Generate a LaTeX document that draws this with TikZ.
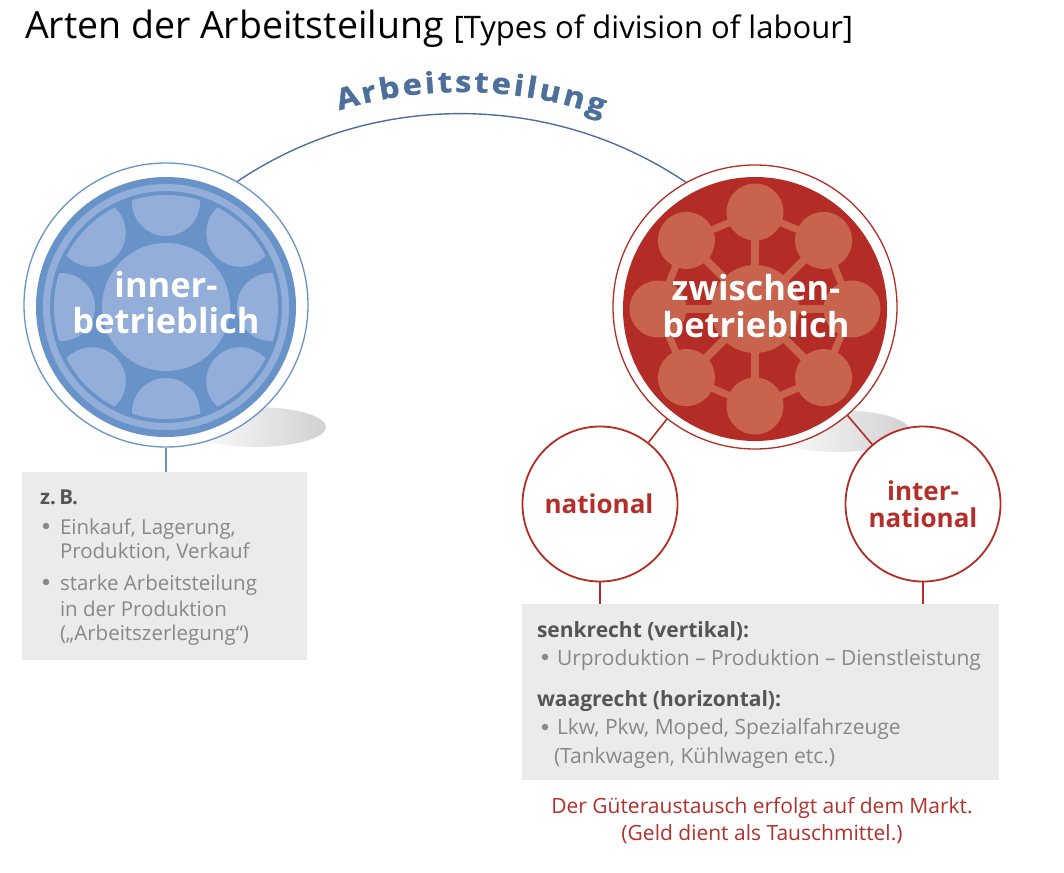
\documentclass[tikz,border=0pt]{standalone}
\usepackage{fontspec}
\setmainfont{Open Sans}
\newfontfamily\arcfont{Open Sans}[FakeStretch=1.12,FakeBold=1.5]
\usetikzlibrary{decorations.text,calc}
\definecolor{bdark}{HTML}{6893C9}
\definecolor{blight}{HTML}{93AFD9}
\definecolor{bline}{HTML}{4C6F9B}
\definecolor{rdark}{HTML}{B32D26}
\definecolor{rlight}{HTML}{C8644D}
\definecolor{boxgray}{HTML}{EBEBEB}
\definecolor{tdark}{HTML}{555555}
\definecolor{tlight}{HTML}{888888}
\definecolor{rtext}{HTML}{B3302A}
\newcommand\myfs[2]{\fontsize{#1pt}{#2pt}\selectfont}
\begin{document}
\begin{tikzpicture}[x=1pt,y=-1pt,
  ln/.style={anchor=base west,inner sep=0pt,outer sep=0pt},
  lnc/.style={anchor=base,inner sep=0pt,outer sep=0pt},
  txtL/.style={ln,text=tlight,font=\myfs{20.5}{24}},
  txtB/.style={ln,text=tdark,font=\bfseries\myfs{20.5}{24}},
  txtR/.style={ln,text=tlight,font=\myfs{21}{26}},
  txtRB/.style={ln,text=tdark,font=\bfseries\myfs{21}{26}},
  bul/.style={circle,fill=tlight,inner sep=0pt,minimum size=6.5pt},
  graybox/.style={fill=boxgray,inner sep=0pt,outer sep=0pt},
  bigcirc/.style={circle,line width=1.3pt,fill=white,minimum size=284pt,inner sep=0pt},
  smallcirc/.style={circle,draw=rdark,line width=1.8pt,fill=white,minimum size=155pt,inner sep=0pt},
  ctext/.style={lnc,text=white,font=\bfseries\myfs{34.5}{40}},
  rctext/.style={lnc,text=rtext,font=\bfseries\myfs{26}{30}},
  bconn/.style={draw=bline,line width=1.4pt},
  rconn/.style={draw=rdark,line width=1.6pt},
  lconn/.style={draw=bdark,line width=1.6pt}
]
\useasboundingbox (0,0) rectangle (1064,872);

% title
\node[ln] (title) at (25,39) {\myfs{37.5}{40}Arten der Arbeitsteilung\hspace{10pt}\myfs{31}{34}[Types of division of labour]};

% shadows
\shade[left color=white,right color=black!18] (256,427) ellipse[x radius=70pt,y radius=20pt];
\shade[left color=white,right color=black!18] (838,431) ellipse[x radius=72pt,y radius=21pt];

% blue circle
\node[bigcirc,draw=bdark] (inner) at (166,305) {};
\coordinate (ic) at (166,307);
\fill[bdark] (ic) circle[radius=130pt];
\fill[blight,even odd rule] (ic) circle[radius=123pt] (ic) circle[radius=116pt];
\begin{scope}
  \clip (ic) circle[radius=112pt];
  \foreach \a in {0,45,...,315} \fill[blight] ($(ic)+(\a:105pt)$) circle[radius=34pt];
\end{scope}
\fill[blight] (ic) circle[radius=64pt];
\node[ctext] (it1) at (166,297) {inner-};
\node[ctext] (it2) at (166,333) {betrieblich};

% red circle
\node[bigcirc,draw=rdark] (zw) at (755,307) {};
\coordinate (rc) at (755,309);
\fill[rdark] (rc) circle[radius=132pt];
\foreach \a in {0,45,...,315} \draw[rlight,line width=8pt] (rc) -- ($(rc)+(\a:97pt)$);
\draw[rlight,line width=7pt,line join=round] ($(rc)+(0:97pt)$) -- ($(rc)+(45:97pt)$) -- ($(rc)+(90:97pt)$) -- ($(rc)+(135:97pt)$) -- ($(rc)+(180:97pt)$) -- ($(rc)+(225:97pt)$) -- ($(rc)+(270:97pt)$) -- ($(rc)+(315:97pt)$) -- cycle;
\foreach \a in {0,45,...,315} \fill[rlight] ($(rc)+(\a:97pt)$) circle[radius=28.5pt];
\fill[rlight] (rc) circle[radius=44pt];
\node[ctext] (zt1) at (756,300) {zwischen-};
\node[ctext] (zt2) at (756,337) {betrieblich};

% arc connector and its label
\draw[bconn] (inner.60) to[out=34,in=146,looseness=0.93] (zw.119);
\coordinate (arcc) at (462,512);
\path[decorate,decoration={text along path,text align={fit to path},text color=bline,
  text={|\arcfont\bfseries\myfs{29}{29}|Arbeitsteilung}}]
  ([shift={(107:420pt)}]arcc) arc[start angle=107,end angle=70.5,radius=420pt];

% national / international
\node[smallcirc] (nat) at (600,504) {};
\node[smallcirc] (intl) at (923,504) {};
\draw[rconn] (zw) -- (nat);
\draw[rconn] (zw) -- (intl);
\node[rctext] (natt) at (599,513) {national};
\node[rctext] (intt1) at (923,500) {inter-};
\node[rctext] (intt2) at (923,527) {national};

% left box
\node[graybox,minimum width=285pt,minimum height=188pt] (lbox) at (164.5,566) {};
\draw[lconn] (inner.south) -- (lbox.north -| inner.south);
\node[txtB] (l0) at (40,504) {z.\,B.};
\node[bul] (lb1) at (46,526) {};
\node[txtL] (l1) at (60,534) {Einkauf, Lagerung,};
\node[txtL] (l2) at (60,558) {Produktion, Verkauf};
\node[bul] (lb2) at (46,582) {};
\node[txtL] (l3) at (60,590) {starke Arbeitsteilung};
\node[txtL] (l4) at (60,616) {in der Produktion};
\node[txtL] (l5) at (60,640) {(„Arbeitszerlegung“)};

% right box
\node[graybox,minimum width=477pt,minimum height=176pt] (rbox) at (760.5,692) {};
\draw[rconn] (nat.south) -- (rbox.north -| nat.south);
\draw[rconn] (intl.south) -- (rbox.north -| intl.south);
\node[txtRB] (r0) at (537,637) {senkrecht (vertikal):};
\node[bul] (rb1) at (545,657) {};
\node[txtR] (r1) at (557,665) {Urproduktion – Produktion – Dienstleistung};
\node[txtRB] (r2) at (537,706) {waagrecht (horizontal):};
\node[bul] (rb2) at (545,727) {};
\node[txtR] (r3) at (557,734) {Lkw, Pkw, Moped, Spezialfahrzeuge};
\node[txtR] (r4) at (554,763) {(Tankwagen, Kühlwagen etc.)};

% bottom note
\node[lnc,text=rtext,font=\myfs{21}{26}] (n1) at (762,813) {Der Güteraustausch erfolgt auf dem Markt.};
\node[lnc,text=rtext,font=\myfs{21}{26}] (n2) at (762,840) {(Geld dient als Tauschmittel.)};
\end{tikzpicture}
\end{document}
